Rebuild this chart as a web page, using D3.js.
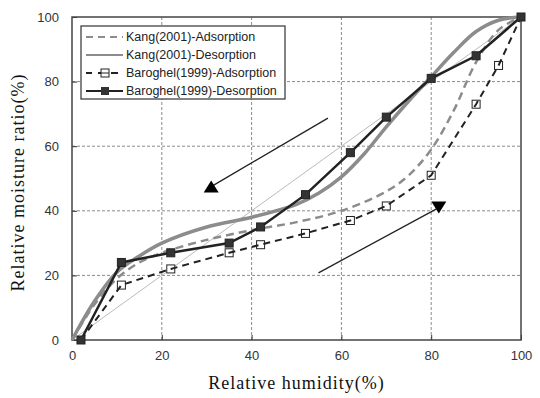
<!DOCTYPE html>
<html>
<head>
<meta charset="utf-8">
<script src="https://d3js.org/d3.v7.min.js"></script>
<style>
  body { margin: 0; background: #fff; }
</style>
</head>
<body>
<div id="chart"></div>
<script>
// data
var xTicks = [0, 20, 40, 60, 80, 100]
var yTicks = [0, 20, 40, 60, 80, 100]

var baroDesRH = [2, 11, 22, 35, 42, 52, 62, 70, 80, 90, 100]
var baroDesMR = [0, 24, 27, 30, 35, 45, 58, 69, 81, 88, 100]

var baroAdsRH = [2, 11, 22, 35, 42, 52, 62, 70, 80, 90, 95, 100]
var baroAdsMR = [0, 17, 22, 27, 29.5, 33, 37, 41.5, 51, 73, 85, 100]

var kangAdsRH = [0, 5, 10, 15, 20, 30, 40, 50, 60, 70, 75, 80, 85, 90, 95, 100]
var kangAdsMR = [0, 11, 19, 24, 27, 31, 34, 36.5, 40, 46, 51, 59, 71, 86, 96, 100]

var kangDesRH = [0, 5, 10, 15, 20, 30, 40, 50, 55, 60, 65, 70, 75, 80, 85, 90, 95, 100]
var kangDesMR = [0, 12, 21, 26, 30, 35, 38, 42, 45.5, 50.5, 57.5, 66, 74, 81.5, 89, 95.5, 99, 100]

var diagRH = [0, 100]
var diagMR = [0, 100]

// arrow annotations [x1, y1, x2, y2]
var arrowDes = [57, 68.7, 31, 47.5]
var arrowAds = [54.9, 20.8, 81.7, 41]

var legendNames = ["Kang(2001)-Adsorption", "Kang(2001)-Desorption",
                   "Baroghel(1999)-Adsorption", "Baroghel(1999)-Desorption"]

var width = 540, height = 398
var margin = {top: 17, right: 19, bottom: 58, left: 72}

var svg = d3.select("#chart").append("svg")
  .attr("width", width)
  .attr("height", height)

var x = d3.scaleLinear().domain([0, 100]).range([margin.left, width - margin.right])
var y = d3.scaleLinear().domain([0, 100]).range([height - margin.bottom, margin.top])

function pts(xs, ys) {
  return xs.map(function(d, i) { return [d, ys[i]] })
}

// grid
svg.append("g")
  .selectAll("line.gx")
  .data(xTicks.slice(1, -1))
  .enter().append("line")
  .attr("x1", function(d) { return x(d) }).attr("x2", function(d) { return x(d) })
  .attr("y1", y(0)).attr("y2", y(100))
  .attr("stroke", "#8a8a8a").attr("stroke-width", 1).attr("stroke-dasharray", "3,2")

svg.append("g")
  .selectAll("line.gy")
  .data(yTicks.slice(1, -1))
  .enter().append("line")
  .attr("x1", x(0)).attr("x2", x(100))
  .attr("y1", function(d) { return y(d) }).attr("y2", function(d) { return y(d) })
  .attr("stroke", "#8a8a8a").attr("stroke-width", 1).attr("stroke-dasharray", "3,2")

// axes
var xAxis = svg.append("g")
  .attr("transform", "translate(0," + y(0) + ")")
  .call(d3.axisBottom(x).tickValues(xTicks).tickSizeInner(-5).tickSizeOuter(0).tickPadding(11))
var yAxis = svg.append("g")
  .attr("transform", "translate(" + x(0) + ",0)")
  .call(d3.axisLeft(y).tickValues(yTicks).tickSizeInner(-5).tickSizeOuter(0).tickPadding(13))

;[xAxis, yAxis].forEach(function(a) {
  a.select(".domain").remove()
  a.selectAll("line").attr("stroke", "#333")
  a.selectAll("text")
    .attr("font-family", "'Liberation Sans', Arial, sans-serif")
    .attr("font-size", 13)
    .attr("fill", "#333")
})

// frame
svg.append("rect")
  .attr("x", x(0)).attr("y", y(100))
  .attr("width", x(100) - x(0)).attr("height", y(0) - y(100))
  .attr("fill", "none").attr("stroke", "#444").attr("stroke-width", 1.5)

var smooth = d3.line().x(function(d) { return x(d[0]) }).y(function(d) { return y(d[1]) })
  .curve(d3.curveCatmullRom.alpha(0.5))
var straight = d3.line().x(function(d) { return x(d[0]) }).y(function(d) { return y(d[1]) })

// diagonal reference
svg.append("path").attr("d", straight(pts(diagRH, diagMR)))
  .attr("fill", "none").attr("stroke", "#bbb").attr("stroke-width", 1)

// Kang curves
svg.append("path").attr("d", smooth(pts(kangDesRH, kangDesMR)))
  .attr("fill", "none").attr("stroke", "#8c8c8c").attr("stroke-width", 3.5)
svg.append("path").attr("d", smooth(pts(kangAdsRH, kangAdsMR)))
  .attr("fill", "none").attr("stroke", "#8c8c8c").attr("stroke-width", 2.5)
  .attr("stroke-dasharray", "8,5")

// Baroghel adsorption: open squares with the dashed line over them
var sq = 8
svg.append("g").selectAll("rect")
  .data(pts(baroAdsRH, baroAdsMR).slice(1, -1))
  .enter().append("rect")
  .attr("x", function(d) { return x(d[0]) - sq / 2 })
  .attr("y", function(d) { return y(d[1]) - sq / 2 })
  .attr("width", sq).attr("height", sq)
  .attr("fill", "#fff").attr("stroke", "#222").attr("stroke-width", 1)
svg.append("path").attr("d", straight(pts(baroAdsRH, baroAdsMR)))
  .attr("fill", "none").attr("stroke", "#222").attr("stroke-width", 2)
  .attr("stroke-dasharray", "7,5")

// Baroghel desorption
svg.append("path").attr("d", straight(pts(baroDesRH, baroDesMR)))
  .attr("fill", "none").attr("stroke", "#222").attr("stroke-width", 2.5)
svg.append("g").selectAll("rect")
  .data(pts(baroDesRH, baroDesMR))
  .enter().append("rect")
  .attr("x", function(d) { return x(d[0]) - sq / 2 })
  .attr("y", function(d) { return y(d[1]) - sq / 2 })
  .attr("width", sq).attr("height", sq)
  .attr("fill", "#333").attr("stroke", "#222").attr("stroke-width", 1)

// arrows
function arrow(a, up) {
  svg.append("line")
    .attr("x1", x(a[0])).attr("y1", y(a[1]))
    .attr("x2", x(a[2])).attr("y2", y(a[3]))
    .attr("stroke", "#222").attr("stroke-width", 1.3)
  var cx = x(a[2]), cy = y(a[3])
  var tri = up
    ? [[cx, cy - 6], [cx - 7.5, cy + 6], [cx + 7.5, cy + 6]]
    : [[cx, cy + 6], [cx - 7.5, cy - 6], [cx + 7.5, cy - 6]]
  svg.append("path").attr("d", "M" + tri.join("L") + "Z").attr("fill", "#000")
}
arrow(arrowDes, true)
arrow(arrowAds, false)

// legend
var lg = svg.append("g")
lg.append("rect")
  .attr("x", 81).attr("y", 26).attr("width", 204).attr("height", 73)
  .attr("fill", "#fff").attr("stroke", "#333").attr("stroke-width", 1.2)

var rowY = [37, 55, 73, 91]
legendNames.forEach(function(name, i) {
  var ly = rowY[i]
  var ln = lg.append("line").attr("x1", 86).attr("x2", 123).attr("y1", ly).attr("y2", ly)
  if (i === 0) ln.attr("stroke", "#8c8c8c").attr("stroke-width", 2).attr("stroke-dasharray", "7,5")
  if (i === 1) ln.attr("stroke", "#8c8c8c").attr("stroke-width", 2)
  if (i === 2) {
    ln.attr("stroke", "#222").attr("stroke-width", 2).attr("stroke-dasharray", "7,6").attr("stroke-dashoffset", 1)
    lg.append("rect").attr("x", 101).attr("y", ly - 4).attr("width", 8).attr("height", 8)
      .attr("fill", "#fff").attr("stroke", "#222")
    lg.append("line").attr("x1", 101).attr("x2", 109).attr("y1", ly).attr("y2", ly)
      .attr("stroke", "#222").attr("stroke-width", 1)
  }
  if (i === 3) {
    ln.attr("stroke", "#222").attr("stroke-width", 2)
    lg.append("rect").attr("x", 101).attr("y", ly - 4).attr("width", 8).attr("height", 8)
      .attr("fill", "#333")
  }
  lg.append("text").attr("x", 126).attr("y", ly).attr("dy", "0.35em")
    .attr("font-family", "'Liberation Sans', Arial, sans-serif").attr("font-size", 12.5)
    .attr("fill", "#222").text(name)
})

// axis titles
svg.append("text")
  .attr("x", (x(0) + x(100)) / 2).attr("y", 389)
  .attr("text-anchor", "middle")
  .attr("font-family", "'Liberation Serif', 'DejaVu Serif', serif")
  .attr("font-size", 18).attr("letter-spacing", 1).attr("fill", "#111")
  .text("Relative humidity(%)")

svg.append("text")
  .attr("transform", "translate(24," + (y(50) + 4) + ") rotate(-90)")
  .attr("text-anchor", "middle")
  .attr("font-family", "'Liberation Serif', 'DejaVu Serif', serif")
  .attr("font-size", 18).attr("letter-spacing", 1).attr("fill", "#111")
  .text("Relative moisture ratio(%)")
</script>
</body>
</html>
